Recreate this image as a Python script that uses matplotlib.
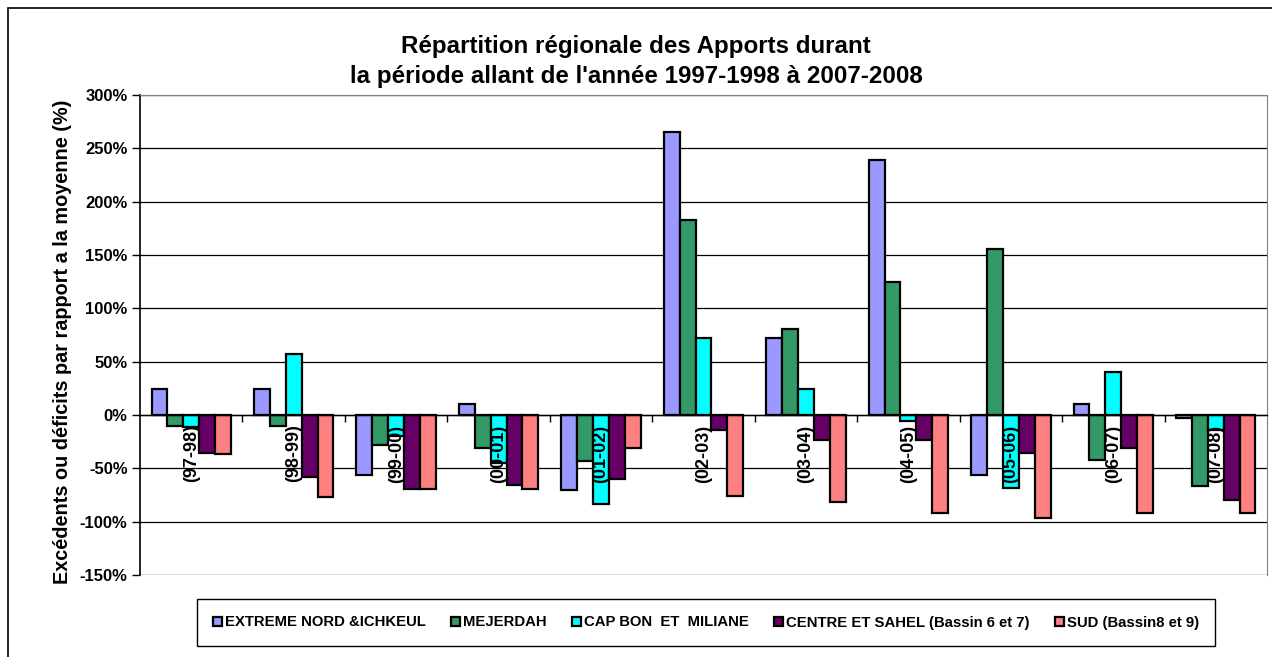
import numpy as np
import matplotlib
matplotlib.use('Agg')
import matplotlib.pyplot as plt
from matplotlib.patches import Rectangle

# data (%)
years = ['(97-98)', '(98-99)', '(99-00)', '(00-01)', '(01-02)', '(02-03)',
         '(03-04)', '(04-05)', '(05-06)', '(06-07)', '(07-08)']
extreme_nord = [24, 24, -56, 10, -70, 265, 72, 239, -56, 10, -3]
mejerdah = [-10, -10, -28, -31, -43, 183, 81, 125, 156, -42, -67]
cap_bon = [-11, 57, -20, -45, -83, 72, 24, -6, -68, 40, -14]
centre_sahel = [-36, -58, -69, -66, -60, -14, -23, -23, -36, -31, -80]
sud = [-37, -77, -69, -69, -31, -76, -82, -92, -97, -92, -92]

series = ['EXTREME NORD &ICHKEUL', 'MEJERDAH', 'CAP BON  ET  MILIANE',
          'CENTRE ET SAHEL (Bassin 6 et 7)', 'SUD (Bassin8 et 9)']
colors = ['#9999FF', '#339966', '#00FFFF', '#660066', '#FF8080']
yticks = [-150, -100, -50, 0, 50, 100, 150, 200, 250, 300]

plt.rcParams['font.family'] = ['Liberation Sans', 'DejaVu Sans']
plt.rcParams['font.weight'] = 'bold'

fig = plt.figure(figsize=(12.72, 6.57), dpi=100)
ax = fig.add_axes([140 / 1272, 82 / 657, 1127 / 1272, 480 / 657])

# outer frame of the chart
fig.patches.append(Rectangle((8 / 1272, -0.01), 1.1, 0.998, transform=fig.transFigure,
                             fill=False, edgecolor='black', lw=1.2))

x = np.arange(len(years))
w = 0.155
values = [extreme_nord, mejerdah, cap_bon, centre_sahel, sud]
for i, (vals, c, name) in enumerate(zip(values, colors, series)):
    ax.bar(x + (i - 2) * w, vals, w, color=c, edgecolor='black', lw=1.6,
           label=name, zorder=2)

ax.set_xlim(-0.5, len(years) - 0.5)
ax.set_ylim(-150, 300)
ax.set_yticks(yticks)
ax.set_yticklabels([f'{t}%' for t in yticks], fontsize=12, fontweight='bold')
ax.yaxis.grid(True, color='black', lw=0.9, zorder=0)
ax.tick_params(axis='y', direction='out', length=6, width=1, pad=3)

# x axis sits on zero, year labels drawn over the bars
ax.spines['bottom'].set_position(('data', 0))
ax.spines['bottom'].set_linewidth(1.0)
ax.set_xticks(np.arange(0.5, len(years) - 0.5, 1))
ax.set_xticklabels([])
ax.tick_params(axis='x', direction='out', length=5, width=1)
for xi, lab in zip(x, years):
    ax.text(xi, -9, lab, rotation=90, ha='center', va='top', fontsize=13,
            fontweight='bold', zorder=5)
ax.spines['left'].set_linewidth(1.2)
ax.spines['top'].set_color('#808080')
ax.spines['right'].set_color('#808080')

fig.text(62 / 1272, 1 - 342 / 657, 'Excédents ou déficits par rapport a la moyenne (%)',
         rotation=90, ha='center', va='center', fontsize=14.3, fontweight='bold')

fig.text(0.5, 1 - 46 / 657, 'Répartition régionale des Apports durant',
         ha='center', va='center', fontsize=17.4, fontweight='bold')
fig.text(0.5, 1 - 76 / 657, "la période allant de l'année 1997-1998 à 2007-2008",
         ha='center', va='center', fontsize=17.4, fontweight='bold')

leg = fig.legend(loc='center', bbox_to_anchor=(706 / 1272, 34.5 / 657), ncol=5,
                 frameon=True, fancybox=False, edgecolor='black', framealpha=1,
                 prop={'size': 10.7, 'weight': 'bold'}, handlelength=0.6,
                 handleheight=0.6, handletextpad=0.2, columnspacing=1.7,
                 borderpad=1.1)
leg.get_frame().set_linewidth(1.0)

fig.savefig('out.png', dpi=100)
